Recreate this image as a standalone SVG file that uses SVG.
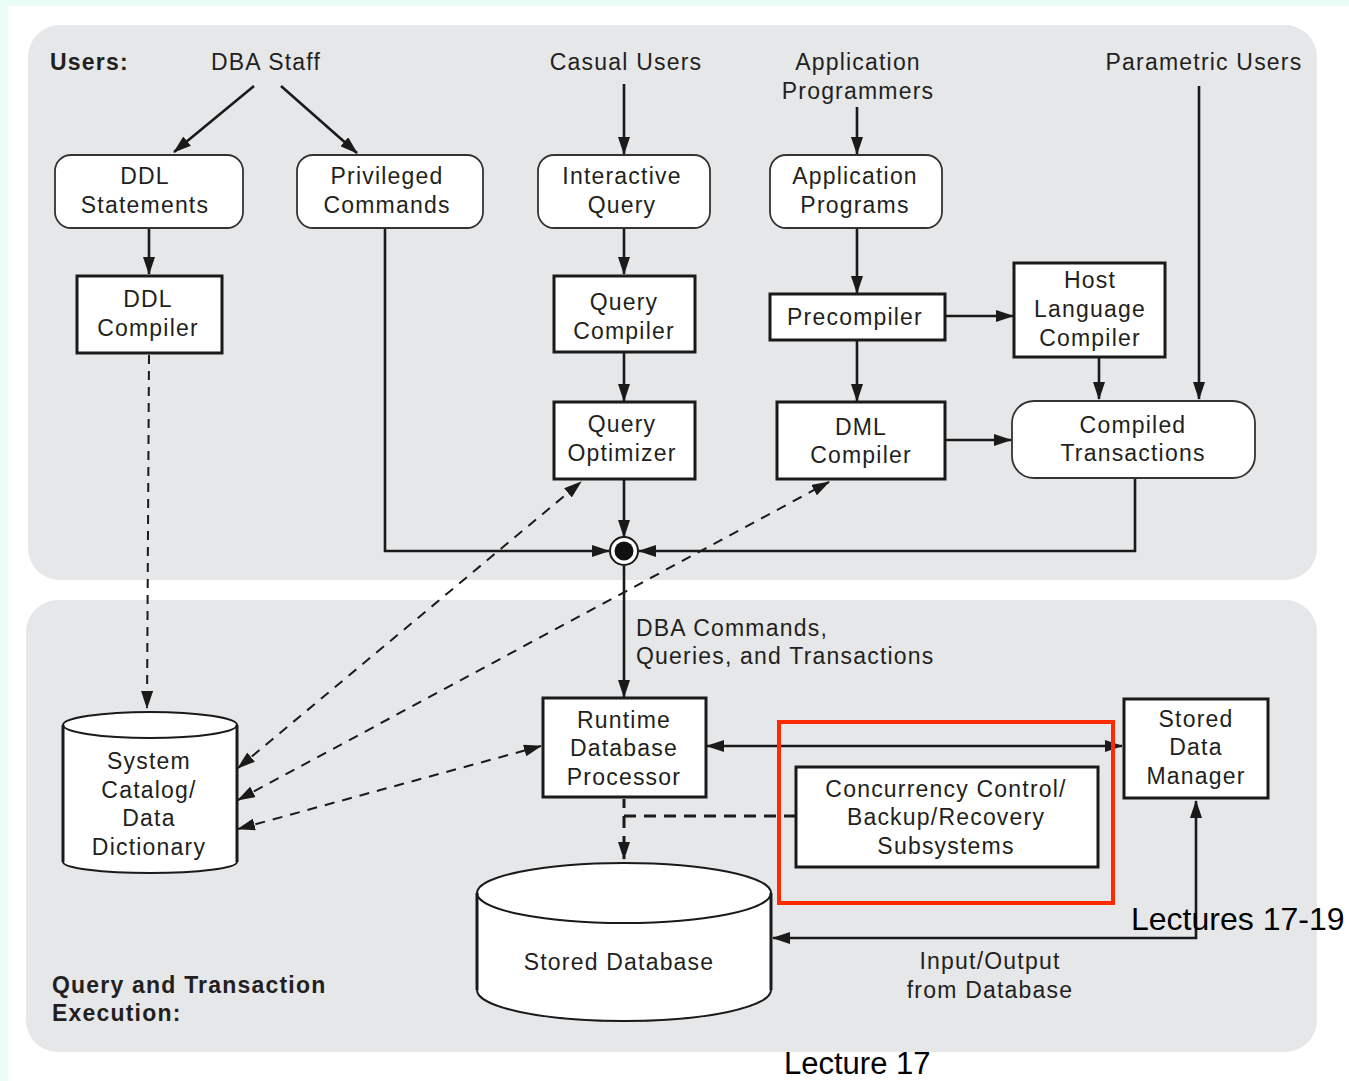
<svg xmlns="http://www.w3.org/2000/svg" width="1349" height="1081" viewBox="0 0 1349 1081">
<defs>
<marker id="ah" markerUnits="userSpaceOnUse" markerWidth="18" markerHeight="12" refX="17" refY="6" orient="auto-start-reverse">
<path d="M0,0 L18,6 L0,12 z" fill="#1a1a1a"/>
</marker>
</defs>
<style>
text{font-family:"Liberation Sans",Arial,sans-serif;font-size:23px;fill:#231f20;letter-spacing:1.2px;text-anchor:middle}
.l{text-anchor:start}
.b{font-weight:bold}
.big{font-size:32px;fill:#000;letter-spacing:0;text-anchor:start}
.rr{fill:#fff;stroke:#333;stroke-width:1.8}
.bx{fill:#fff;stroke:#1a1a1a;stroke-width:3}
.ln{fill:none;stroke:#1a1a1a;stroke-width:2.6}
.ar{marker-end:url(#ah)}
.ar2{marker-start:url(#ah);marker-end:url(#ah)}
.ds{fill:none;stroke:#1a1a1a;stroke-width:2;stroke-dasharray:10 8}
.ds3{fill:none;stroke:#1a1a1a;stroke-width:3;stroke-dasharray:12 8}
.cyl{fill:#fff;stroke:#1a1a1a;stroke-width:2}
</style>
<rect x="0" y="0" width="1349" height="1081" fill="#fff"/>
<rect x="0" y="0" width="1349" height="6" fill="#ebfcf6"/>
<rect x="0" y="0" width="8" height="1081" fill="#ebfcf6"/>
<rect x="28" y="25" width="1289" height="555" rx="32" fill="#e6e7e9"/>
<rect x="26" y="600" width="1291" height="452" rx="32" fill="#e6e7e9"/>

<g id="labels">
<text class="l b" x="50" y="70">Users:</text>
<text x="266" y="70">DBA Staff</text>
<text x="626" y="70">Casual Users</text>
<text x="858" y="70">Application</text>
<text x="858" y="99">Programmers</text>
<text x="1204" y="70">Parametric Users</text>
<text class="l" x="636" y="636">DBA Commands,</text>
<text class="l" x="636" y="664">Queries, and Transactions</text>
<text x="990" y="969">Input/Output</text>
<text x="990" y="998">from Database</text>
<text class="l b" x="52" y="993">Query and Transaction</text>
<text class="l b" x="52" y="1021">Execution:</text>
</g>

<g id="connectors">
<line class="ln ar" x1="254" y1="86" x2="174" y2="152"/>
<line class="ln ar" x1="281" y1="86" x2="357" y2="153"/>
<line class="ln ar" x1="149" y1="229" x2="149" y2="274"/>
<line class="ds ar" x1="149" y1="355" x2="147" y2="708" style="stroke-dasharray:9 7"/>
<polyline class="ln ar" points="385,228 385,551 609,551"/>
<line class="ln ar" x1="624" y1="84" x2="624" y2="154"/>
<line class="ln ar" x1="624" y1="229" x2="624" y2="274"/>
<line class="ln ar" x1="624" y1="353" x2="624" y2="401"/>
<line class="ln ar" x1="624" y1="480" x2="624" y2="537"/>
<line class="ln ar" x1="857" y1="107" x2="857" y2="154"/>
<line class="ln ar" x1="857" y1="229" x2="857" y2="293"/>
<line class="ln ar" x1="946" y1="316" x2="1013" y2="316"/>
<line class="ln ar" x1="857" y1="341" x2="857" y2="401"/>
<line class="ln ar" x1="1099" y1="358" x2="1099" y2="399"/>
<line class="ln ar" x1="1199" y1="86" x2="1199" y2="399"/>
<line class="ln ar" x1="946" y1="440" x2="1011" y2="440"/>
<polyline class="ln ar" points="1135,479 1135,551 639,551"/>
<line class="ln ar" x1="624" y1="566" x2="624" y2="697"/>
<line class="ds ar2" x1="238" y1="768" x2="581" y2="482"/>
<line class="ds ar2" x1="238" y1="800" x2="829" y2="482"/>
<line class="ds ar2" x1="238" y1="829" x2="541" y2="746"/>
<line class="ln ar2" x1="707" y1="746" x2="1122" y2="746"/>
<polyline class="ds3" points="796,816 624,816 624,799"/>
<line class="ds3 ar" x1="624" y1="816" x2="624" y2="859"/>
<polyline class="ln ar2" points="1196,801 1196,938 773,938"/>
</g>

<g id="junction">
<circle cx="624" cy="551" r="14" fill="#fff" stroke="#1a1a1a" stroke-width="2"/>
<circle cx="624" cy="551" r="9.5" fill="#111"/>
</g>

<g id="ddl-statements">
<rect class="rr" x="55" y="155" width="188" height="73" rx="16"/>
<text x="145" y="184">DDL</text><text x="145" y="213">Statements</text>
</g>
<g id="privileged-commands">
<rect class="rr" x="297" y="155" width="186" height="73" rx="16"/>
<text x="387" y="184">Privileged</text><text x="387" y="213">Commands</text>
</g>
<g id="interactive-query">
<rect class="rr" x="538" y="155" width="172" height="73" rx="16"/>
<text x="622" y="184">Interactive</text><text x="622" y="213">Query</text>
</g>
<g id="application-programs">
<rect class="rr" x="770" y="155" width="172" height="73" rx="16"/>
<text x="855" y="184">Application</text><text x="855" y="213">Programs</text>
</g>
<g id="ddl-compiler">
<rect class="bx" x="77" y="276" width="145" height="77"/>
<text x="148" y="307">DDL</text><text x="148" y="336">Compiler</text>
</g>
<g id="query-compiler">
<rect class="bx" x="554" y="276" width="141" height="76"/>
<text x="624" y="310">Query</text><text x="624" y="339">Compiler</text>
</g>
<g id="precompiler">
<rect class="bx" x="770" y="294" width="175" height="46"/>
<text x="855" y="325">Precompiler</text>
</g>
<g id="host-language-compiler">
<rect class="bx" x="1014" y="263" width="151" height="94"/>
<text x="1090" y="288">Host</text><text x="1090" y="317">Language</text><text x="1090" y="346">Compiler</text>
</g>
<g id="query-optimizer">
<rect class="bx" x="554" y="402" width="141" height="77"/>
<text x="622" y="432">Query</text><text x="622" y="461">Optimizer</text>
</g>
<g id="dml-compiler">
<rect class="bx" x="777" y="402" width="168" height="77"/>
<text x="861" y="435">DML</text><text x="861" y="463">Compiler</text>
</g>
<g id="compiled-transactions">
<rect class="rr" x="1012" y="401" width="243" height="77" rx="22"/>
<text x="1133" y="433">Compiled</text><text x="1133" y="461">Transactions</text>
</g>
<g id="runtime-database-processor">
<rect class="bx" x="543" y="698" width="163" height="99"/>
<text x="624" y="728">Runtime</text><text x="624" y="756">Database</text><text x="624" y="785">Processor</text>
</g>
<g id="stored-data-manager">
<rect class="bx" x="1124" y="699" width="144" height="99"/>
<text x="1196" y="727">Stored</text><text x="1196" y="755">Data</text><text x="1196" y="784">Manager</text>
</g>
<g id="concurrency-control">
<rect class="bx" x="796" y="767" width="302" height="100"/>
<text x="946" y="797">Concurrency Control/</text><text x="946" y="825">Backup/Recovery</text><text x="946" y="854">Subsystems</text>
</g>
<g id="system-catalog">
<path class="cyl" d="M63,725 L63,862 A87,11 0 0 0 237,862 L237,725"/>
<ellipse class="cyl" cx="150" cy="725" rx="87" ry="13"/>
<line x1="63" y1="725" x2="63" y2="862" stroke="#1a1a1a" stroke-width="3"/>
<line x1="237" y1="725" x2="237" y2="862" stroke="#1a1a1a" stroke-width="3"/>
<text x="149" y="769">System</text><text x="149" y="798">Catalog/</text><text x="149" y="826">Data</text><text x="149" y="855">Dictionary</text>
</g>
<g id="stored-database">
<path class="cyl" d="M477,893 L477,990 A147,31 0 0 0 771,990 L771,893"/>
<ellipse class="cyl" cx="624" cy="893" rx="147" ry="30"/>
<line x1="477" y1="893" x2="477" y2="990" stroke="#1a1a1a" stroke-width="3"/>
<line x1="771" y1="893" x2="771" y2="990" stroke="#1a1a1a" stroke-width="3"/>
<text x="619" y="970">Stored Database</text>
</g>

<rect id="highlight" x="779" y="722" width="334" height="181" fill="none" stroke="#ff2a00" stroke-width="4"/>
<text class="big" x="1131" y="930">Lectures 17-19</text>
<text class="big" x="784" y="1074" style="font-size:31px">Lecture 17</text>
</svg>
